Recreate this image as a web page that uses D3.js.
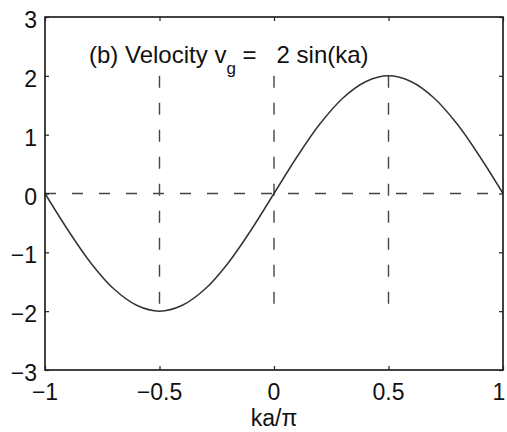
<!DOCTYPE html>
<html lang="en">
<head>
    <meta charset="UTF-8">
    <title>Group velocity</title>
    <script src="https://d3js.org/d3.v7.min.js"></script>
    <style>
        body {
            margin: 0;
            background: #fff;
            font-family: "Liberation Sans", Arial, sans-serif;
        }
        .tick-label {
            font-size: 23px;
            fill: #111;
        }
        .title {
            font-size: 24px;
            fill: #111;
            white-space: pre;
        }
    </style>
</head>
<body>
<svg id="chart" width="507" height="432"></svg>

<script>
    // ka/pi positions and the velocity
    const kaValues = [-1, -0.9, -0.8, -0.7, -0.6, -0.5, -0.4, -0.3, -0.2, -0.1, 0,
        0.1, 0.2, 0.3, 0.4, 0.5, 0.6, 0.7, 0.8, 0.9, 1];
    const velocity = [0, -0.62, -1.18, -1.62, -1.9, -2, -1.9, -1.62, -1.18, -0.62, 0,
        0.62, 1.18, 1.62, 1.9, 2, 1.9, 1.62, 1.18, 0.62, 0];
    const xTicks = [-1, -0.5, 0, 0.5, 1];
    const yTicks = [-3, -2, -1, 0, 1, 2, 3];
    const guideX = [-0.5, 0, 0.5];

    const margin = { top: 17, right: 4, bottom: 62, left: 45 };
    const width = 507;
    const height = 432;

    const svg = d3.select("#chart");

    const x = d3.scaleLinear()
        .domain([-1, 1])
        .range([margin.left, width - margin.right]);

    const y = d3.scaleLinear()
        .domain([-3, 3])
        .range([height - margin.bottom, margin.top]);

    const fmt = d => String(d).replace("-", "\u2212");

    // dashed guides
    svg.append("line")
        .attr("x1", x(-1)).attr("x2", x(1))
        .attr("y1", y(0)).attr("y2", y(0))
        .attr("stroke", "#444")
        .attr("stroke-width", 1.4)
        .attr("stroke-dasharray", "11,16");

    svg.selectAll(".guide")
        .data(guideX)
        .enter()
        .append("line")
        .attr("class", "guide")
        .attr("x1", d => x(d)).attr("x2", d => x(d))
        .attr("y1", y(2)).attr("y2", y(-2))
        .attr("stroke", "#444")
        .attr("stroke-width", 1.4)
        .attr("stroke-dasharray", "12,15");

    // curve
    const points = kaValues.map((k, i) => [k, velocity[i]]);
    const line = d3.line()
        .x(d => x(d[0]))
        .y(d => y(d[1]))
        .curve(d3.curveCatmullRom);

    svg.append("path")
        .datum(points)
        .attr("fill", "none")
        .attr("stroke", "#333")
        .attr("stroke-width", 1.5)
        .attr("d", line);

    // box and inward ticks on all sides
    const tickLen = 4;
    svg.append("g")
        .attr("transform", `translate(0,${y(-3)})`)
        .call(d3.axisTop(x).tickValues(xTicks).tickSize(tickLen).tickFormat(""))
        .call(g => g.select(".domain").remove());
    svg.append("g")
        .attr("transform", `translate(0,${y(3)})`)
        .call(d3.axisBottom(x).tickValues(xTicks).tickSize(tickLen).tickFormat(""))
        .call(g => g.select(".domain").remove());
    svg.append("g")
        .attr("transform", `translate(${x(-1)},0)`)
        .call(d3.axisRight(y).tickValues(yTicks).tickSize(tickLen).tickFormat(""))
        .call(g => g.select(".domain").remove());
    svg.append("g")
        .attr("transform", `translate(${x(1)},0)`)
        .call(d3.axisLeft(y).tickValues(yTicks).tickSize(tickLen).tickFormat(""))
        .call(g => g.select(".domain").remove());
    svg.selectAll(".tick line").attr("stroke", "#222").attr("stroke-width", 1.2);

    svg.append("rect")
        .attr("x", x(-1))
        .attr("y", y(3))
        .attr("width", x(1) - x(-1))
        .attr("height", y(-3) - y(3))
        .attr("fill", "none")
        .attr("stroke", "#222")
        .attr("stroke-width", 1.7);

    // tick labels
    svg.selectAll(".ylab")
        .data(yTicks)
        .enter()
        .append("text")
        .attr("class", "tick-label")
        .attr("x", x(-1) - 8)
        .attr("y", d => y(d) + 11)
        .attr("text-anchor", "end")
        .text(fmt);

    // the last label sits at the window edge, keep it just inside
    svg.selectAll(".xlab")
        .data(xTicks)
        .enter()
        .append("text")
        .attr("class", "tick-label")
        .attr("x", d => Math.min(x(d), width - 8))
        .attr("y", y(-3) + 30)
        .attr("text-anchor", "middle")
        .text(fmt);

    svg.append("text")
        .attr("class", "tick-label")
        .attr("x", x(0))
        .attr("y", y(-3) + 56)
        .attr("text-anchor", "middle")
        .text("ka/\u03c0");

    // title inside the axes
    const title = svg.append("text")
        .attr("class", "title")
        .attr("x", 89)
        .attr("y", 63);
    title.append("tspan").text("(b) Velocity v");
    title.append("tspan").attr("dy", 11).style("font-size", "17px").text("g");
    title.append("tspan").attr("dy", -11).text(" =   2 sin(ka)");
</script>
</body>
</html>
